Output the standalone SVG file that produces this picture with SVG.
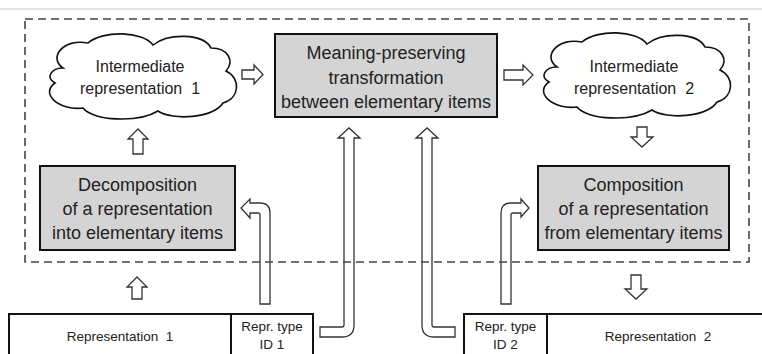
<svg xmlns="http://www.w3.org/2000/svg" width="762" height="354" viewBox="0 0 762 354">
<defs>
<style>
.box{fill:#d4d4d4;stroke:#111;stroke-width:2}
.plain{fill:#fff;stroke:#111;stroke-width:2}
.cloud{fill:#fff;stroke:#111;stroke-width:1.6}
.arr{fill:#fff;stroke:#333;stroke-width:1.3;stroke-linejoin:miter}
.t{font-family:"Liberation Sans",Arial,sans-serif;fill:#222;text-anchor:middle}
.big{font-size:18px}
.mid{font-size:16px}
.sm{font-size:13.5px}
.dash{fill:none;stroke:#444;stroke-width:1.6;stroke-dasharray:8 5}
</style>
<path id="cloudShape" d="M 20 35 C 5 25, 20 5, 45 10 C 60 -3, 100 -2, 110 12 C 125 0, 160 0, 168 15 C 185 15, 192 28, 183 38 C 198 45, 197 65, 180 70 C 170 85, 130 88, 115 78 C 95 90, 50 88, 40 75 C 15 78, -3 60, 12 50 C 2 45, 8 35, 20 35 Z"/>
</defs>
<rect width="762" height="354" fill="#fff"/>
<line x1="0" y1="9" x2="762" y2="9" stroke="#c8c8c8" stroke-width="1.2"/>

<g id="cloud1">
<use href="#cloudShape" class="cloud" transform="translate(43,33)"/>
<text class="t mid" x="140" y="72">Intermediate</text>
<text class="t mid" x="140" y="94" xml:space="preserve">representation  1</text>
</g>

<g id="transform">
<rect class="box" x="275" y="34" width="222" height="83"/>
<text class="t big" x="386" y="59">Meaning-preserving</text>
<text class="t big" x="386" y="84">transformation</text>
<text class="t big" x="386" y="108">between elementary items</text>
</g>

<g id="cloud2">
<use href="#cloudShape" class="cloud" transform="translate(537,32)"/>
<text class="t mid" x="634" y="72">Intermediate</text>
<text class="t mid" x="634" y="94" xml:space="preserve">representation  2</text>
</g>

<g id="decomposition">
<rect class="box" x="40" y="166" width="195" height="84"/>
<text class="t big" x="137.5" y="191">Decomposition</text>
<text class="t big" x="137.5" y="215">of a representation</text>
<text class="t big" x="137.5" y="238.5">into elementary items</text>
</g>

<g id="composition">
<rect class="box" x="538" y="166" width="191" height="84"/>
<text class="t big" x="633.5" y="191">Composition</text>
<text class="t big" x="633.5" y="215">of a representation</text>
<text class="t big" x="633.5" y="238.5">from elementary items</text>
</g>

<g id="representation1">
<rect class="plain" x="9" y="314" width="304" height="60"/>
<line x1="231" y1="314" x2="231" y2="360" stroke="#111" stroke-width="2"/>
<text class="t sm" x="120" y="341" xml:space="preserve">Representation  1</text>
<text class="t sm" x="272" y="331">Repr. type</text>
<text class="t sm" x="272" y="349">ID 1</text>
</g>

<g id="representation2">
<rect class="plain" x="464" y="314" width="310" height="60"/>
<line x1="547" y1="314" x2="547" y2="360" stroke="#111" stroke-width="2"/>
<text class="t sm" x="658" y="341" xml:space="preserve">Representation  2</text>
<text class="t sm" x="505.5" y="331">Repr. type</text>
<text class="t sm" x="505.5" y="349">ID 2</text>
</g>

<g id="connectors">
<polygon class="arr" points="242,70 254,70 254,65 263,74.5 254,84 254,79 242,79"/>
<polygon class="arr" points="504,70 523,70 523,65 533,75 523,85 523,80 504,80"/>
<polygon class="arr" points="133,154 133,139 128,139 138,129 148,139 143,139 143,154"/>
<polygon class="arr" points="132,299 132,287 127,287 137,277 147,287 142,287 142,299"/>
<polygon class="arr" points="637,127 647,127 647,137 653,137 642,147 631,137 637,137"/>
<polygon class="arr" points="631,275 641,275 641,289 647,289 636,299 625,289 631,289"/>
<path class="arr" d="M 320 327 L 342 327 Q 344 327 344 325 L 344 138 L 338 138 L 349 128 L 360 138 L 354 138 L 354 325 Q 354 337 342 337 L 320 337 Z"/>
<path class="arr" d="M 455 327 L 434 327 Q 432 327 432 325 L 432 138 L 438 138 L 427 128 L 416 138 L 422 138 L 422 325 Q 422 337 434 337 L 455 337 Z"/>
<path class="arr" d="M 260 304 L 260 215 Q 260 213 258 213 L 250 213 L 250 218 L 241 208 L 250 199 L 250 203 L 260 203 Q 270 203 270 213 L 270 304 Z"/>
<path class="arr" d="M 511 304 L 511 215 Q 511 213 513 213 L 521 213 L 521 217 L 529 208 L 521 199 L 521 203 L 511 203 Q 501 203 501 213 L 501 304 Z"/>
</g>

<rect class="dash" x="25" y="19" width="724" height="243"/>
</svg>
